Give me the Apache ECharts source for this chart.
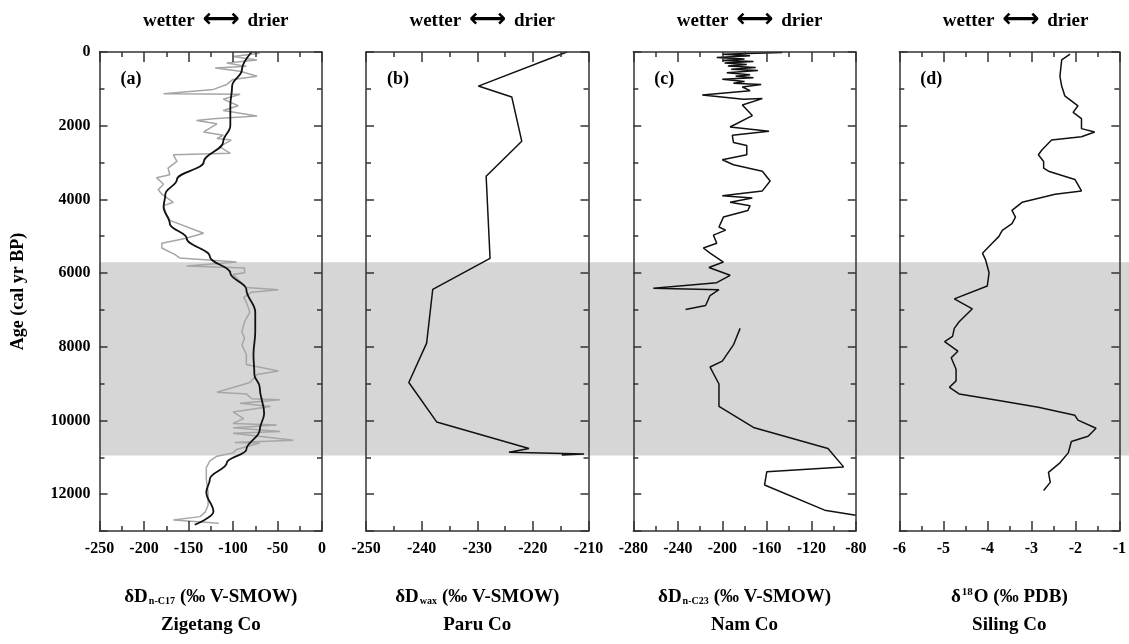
<!DOCTYPE html>
<html>
<head>
<meta charset="utf-8">
<title>Holocene moisture records</title>
<script src="https://cdn.jsdelivr.net/npm/echarts@6/dist/echarts.min.js"></script>
<style>
  html, body { margin: 0; padding: 0; background: #fff; }
  #chartBox { width: 1129px; height: 644px; }
</style>
</head>
<body>
<div id="chartBox"></div>
<script>
// ---- data: [value, age (cal yr BP)] ----
var bandAges = [5600, 10750];

// (a) Zigetang Co, raw record (grey) and smoothed curve (black)
var zigetangRaw = [
  [-78, 0], [-70, 35], [-100, 125], [-73, 215], [-107, 300], [-85, 390], [-120, 435], [-92, 525],
  [-73, 660], [-100, 745], [-107, 880], [-122, 1015], [-178, 1130], [-92, 1145], [-111, 1280],
  [-94, 1460], [-111, 1590], [-73, 1740], [-122, 1810], [-141, 1860], [-118, 1950], [-133, 2170],
  [-111, 2260], [-118, 2350], [-102, 2390], [-115, 2570], [-103, 2750], [-167, 2790], [-163, 2970],
  [-173, 3150], [-171, 3330], [-186, 3410], [-178, 3590], [-184, 3730], [-180, 3860], [-182, 3900],
  [-167, 4080], [-178, 4170], [-175, 4390], [-171, 4570], [-133, 4920], [-154, 5060], [-180, 5190],
  [-180, 5320], [-165, 5500], [-160, 5590], [-96, 5700], [-152, 5810], [-87, 5860], [-87, 5990],
  [-100, 6040], [-85, 6390], [-49, 6450], [-79, 6520], [-88, 6660], [-85, 6790], [-81, 7060],
  [-87, 7320], [-90, 7590], [-87, 7770], [-90, 7950], [-85, 8210], [-85, 8480], [-49, 8660],
  [-73, 8750], [-81, 8970], [-118, 9235], [-85, 9280], [-79, 9410], [-47, 9440], [-92, 9530],
  [-58, 9620], [-100, 9770], [-88, 9950], [-100, 10080], [-51, 10125], [-100, 10200], [-47, 10300],
  [-100, 10350], [-32, 10540], [-98, 10595], [-70, 10610], [-96, 10790], [-100, 10880], [-118, 10970],
  [-126, 11100], [-130, 11280], [-130, 11590], [-128, 11950], [-128, 12300], [-131, 12480],
  [-137, 12610], [-167, 12700], [-116, 12790]
];
var zigetangSmooth = [
  [-79, 0], [-90, 480], [-101, 925], [-103, 1460], [-103, 2000], [-111, 2435], [-133, 2990],
  [-163, 3460], [-176, 3860], [-178, 4210], [-171, 4660], [-152, 5060], [-126, 5550], [-103, 6000],
  [-85, 6440], [-75, 7060], [-75, 7590], [-77, 8210], [-76, 8750], [-70, 9100], [-65, 9810],
  [-70, 10260], [-85, 10790], [-107, 11150], [-126, 11590], [-130, 11950], [-122, 12480], [-143, 12830]
];

// (b) Paru Co
var paruCo = [
  [-213.9, 0], [-229.8, 925], [-223.8, 1220], [-222, 2420], [-228.4, 3370], [-227.7, 5600],
  [-238, 6440], [-239.1, 7900], [-242.3, 8970], [-237.3, 10040], [-220.7, 10760], [-224.3, 10860],
  [-210.8, 10910], [-214.8, 10940]
];

// (c) Nam Co, two core sections with a gap between them
var namCoUpper = [
  [-146, 15], [-200, 60], [-175, 100], [-205, 150], [-180, 190], [-200, 230], [-172, 260],
  [-198, 300], [-178, 340], [-195, 380], [-170, 420], [-192, 470], [-168, 500], [-196, 560],
  [-175, 620], [-188, 660], [-172, 700], [-200, 740], [-180, 800], [-190, 850], [-165, 880],
  [-182, 950], [-175, 1050], [-218, 1170], [-181, 1280], [-164, 1265], [-182, 1440], [-173, 1725],
  [-193, 2035], [-158, 2150], [-191, 2260], [-190, 2455], [-178, 2540], [-178, 2790], [-200, 2925],
  [-190, 3060], [-164, 3235], [-157, 3500], [-164, 3770], [-200, 3900], [-173, 3965], [-193, 4080],
  [-175, 4170], [-177, 4300], [-199, 4480], [-203, 4750], [-197, 4835], [-208, 4970], [-205, 5190],
  [-217, 5320], [-211, 5460], [-199, 5700], [-212, 5850], [-193, 6060], [-205, 6260], [-262, 6410],
  [-203, 6450], [-211, 6610], [-215, 6880], [-233, 6990]
];
var namCoLower = [
  [-184, 7500], [-190, 7950], [-200, 8390], [-211, 8550], [-203, 9010], [-203, 9620], [-172, 10190],
  [-105, 10760], [-91, 11260], [-160, 11390], [-162, 11750], [-108, 12435], [-80, 12570]
];

// (d) Siling Co
var silingCo = [
  [-2.12, 60], [-2.31, 215], [-2.35, 660], [-2.31, 925], [-2.24, 1190], [-1.94, 1460], [-2.05, 1640],
  [-1.86, 1810], [-1.86, 2080], [-1.56, 2170], [-1.86, 2300], [-2.54, 2390], [-2.76, 2660],
  [-2.84, 2790], [-2.72, 2970], [-2.72, 3150], [-2.61, 3235], [-2.01, 3460], [-1.86, 3770],
  [-2.46, 3860], [-3.21, 4080], [-3.44, 4300], [-3.36, 4480], [-3.44, 4660], [-3.66, 4840],
  [-3.74, 5010], [-3.89, 5190], [-4.11, 5460], [-4.04, 5640], [-3.96, 5990], [-4.0, 6350],
  [-4.75, 6700], [-4.34, 6970], [-4.64, 7320], [-4.75, 7500], [-4.79, 7720], [-4.97, 7860],
  [-4.67, 8120], [-4.82, 8300], [-4.71, 8610], [-4.71, 8925], [-4.86, 9100], [-4.64, 9280],
  [-3.74, 9460], [-2.84, 9640], [-2.01, 9860], [-1.94, 9990], [-1.53, 10210], [-1.71, 10430],
  [-2.09, 10570], [-2.16, 10880], [-2.35, 11150], [-2.61, 11410], [-2.57, 11680], [-2.72, 11900]
];

// x axis ranges per panel: [min, max, interval]
var xRanges = [[-250, 0, 50], [-250, -210, 10], [-280, -80, 40], [-6, -1, 1]];
var panelTags = ['(a)', '(b)', '(c)', '(d)'];
var xNames = [
  '{m|δD}{sub|n-C17}{m|(‰ V-SMOW)}\n{m|Zigetang Co}',
  '{m|δD}{sub|wax}{m|(‰ V-SMOW)}\n{m|Paru Co}',
  '{m|δD}{sub|n-C23}{m|(‰ V-SMOW)}\n{m|Nam Co}',
  '{m|δ}{sup|18}{m|O (‰ PDB)}\n{m|Siling Co}'
];
var ageMax = 13000;

// ---- layout ----
var font = '"Liberation Serif", "Times New Roman", "DejaVu Serif", serif';
var axisColor = '#333';
var gridLefts = [99.5, 366, 633.3, 899.3];
var gridW = 222.5, gridTop = 52, gridH = 488;

var chart = echarts.init(document.getElementById('chartBox'));

var grids = [], xAxes = [], yAxes = [], titles = [], graphics = [];

function tickCfg(len) {
  return { show: true, inside: true, length: len, lineStyle: { color: axisColor, width: 1.5 } };
}
function minorCfg() {
  return { show: true, splitNumber: 2, length: 5, lineStyle: { color: axisColor, width: 1.5 } };
}
function plain(v) { return String(v); }

for (var i = 0; i < 4; i++) {
  grids.push({ left: gridLefts[i], top: gridTop, width: gridW, height: gridH });
  var r = xRanges[i];
  // bottom axis with labels
  xAxes.push({
    type: 'value', gridIndex: i, position: 'bottom', min: r[0], max: r[1], interval: r[2], z: 5,
    axisLine: { onZero: false, lineStyle: { color: axisColor, width: 1.5 } },
    axisTick: tickCfg(10), minorTick: minorCfg(), splitLine: { show: false },
    axisLabel: { margin: 10, color: '#000', fontFamily: font, fontWeight: 'bold', fontSize: 16, formatter: plain },
    name: xNames[i], nameLocation: 'middle', nameGap: 52,
    nameTextStyle: {
      color: '#000', lineHeight: 28,
      rich: {
        m: { fontFamily: font, fontWeight: 'bold', fontSize: 19, color: '#000' },
        sub: { fontFamily: font, fontWeight: 'bold', fontSize: 10, color: '#000', padding: [9, 5, 0, 1] },
        sup: { fontFamily: font, fontWeight: 'bold', fontSize: 11, color: '#000', padding: [0, 1, 9, 1] }
      }
    }
  });
  // top mirror axis, ticks only
  xAxes.push({
    type: 'value', gridIndex: i, position: 'top', min: r[0], max: r[1], interval: r[2], z: 5,
    axisLine: { onZero: false, lineStyle: { color: axisColor, width: 1.5 } },
    axisTick: tickCfg(10), minorTick: minorCfg(), splitLine: { show: false },
    axisLabel: { show: false }
  });
  // left age axis
  yAxes.push({
    type: 'value', gridIndex: i, position: 'left', inverse: true, min: 0, max: ageMax, interval: 2000, z: 5,
    axisLine: { onZero: false, lineStyle: { color: axisColor, width: 1.5 } },
    axisTick: tickCfg(8), minorTick: minorCfg(), splitLine: { show: false },
    axisLabel: {
      show: i === 0, margin: 9, color: '#000', fontFamily: font, fontWeight: 'bold', fontSize: 16,
      showMaxLabel: false, formatter: plain
    },
    name: i === 0 ? 'Age (cal yr BP)' : '', nameLocation: 'middle', nameGap: 72,
    nameTextStyle: { color: '#000', fontFamily: font, fontWeight: 'bold', fontSize: 18 }
  });
  // right mirror axis
  yAxes.push({
    type: 'value', gridIndex: i, position: 'right', inverse: true, min: 0, max: ageMax, interval: 2000, z: 5,
    axisLine: { onZero: false, lineStyle: { color: axisColor, width: 1.5 } },
    axisTick: tickCfg(8), minorTick: minorCfg(), splitLine: { show: false },
    axisLabel: { show: false }
  });
  titles.push({
    text: '{w|wetter }{arr|⟷}{w| drier}', left: gridLefts[i] + gridW / 2, top: 2, textAlign: 'center',
    textStyle: {
      rich: {
        w: { fontFamily: font, fontWeight: 'bold', fontSize: 19, color: '#000' },
        arr: { fontFamily: '"DejaVu Sans", sans-serif', fontSize: 26, color: '#000', padding: [0, 3, 2, 3] }
      }
    }
  });
  graphics.push({
    type: 'text', left: gridLefts[i] + 21, top: 70, z: 10,
    style: { text: panelTags[i], font: 'bold 18px ' + font, fill: '#000' }
  });
}

// hidden grid behind the panels for the shaded interval
grids.push({ left: 99.5, right: 0, top: gridTop, height: gridH });
xAxes.push({ type: 'value', gridIndex: 4, min: 0, max: 1, show: false });
yAxes.push({ type: 'value', gridIndex: 4, inverse: true, min: 0, max: ageMax, show: false });

function lineSeries(data, xi, yi, color, width, smooth) {
  return {
    type: 'line', xAxisIndex: xi, yAxisIndex: yi, data: data, symbol: 'none', z: 4,
    smooth: smooth ? 0.4 : false, smoothMonotone: smooth ? 'y' : undefined,
    lineStyle: { color: color, width: width }, silent: true, animation: false
  };
}

var option = {
  backgroundColor: '#fff',
  animation: false,
  title: titles,
  grid: grids,
  xAxis: xAxes,
  yAxis: yAxes,
  graphic: graphics,
  series: [
    {
      type: 'line', xAxisIndex: 8, yAxisIndex: 8, data: [], z: 1, silent: true,
      markArea: {
        silent: true,
        itemStyle: { color: '#d6d6d6', opacity: 1 },
        data: [[{ yAxis: bandAges[0] }, { yAxis: bandAges[1] }]]
      }
    },
    lineSeries(zigetangRaw, 0, 0, '#a6a6a6', 1.5, false),
    lineSeries(zigetangSmooth, 0, 0, '#111', 1.8, true),
    lineSeries(paruCo, 2, 2, '#111', 1.5, false),
    lineSeries(namCoUpper, 4, 4, '#111', 1.5, false),
    lineSeries(namCoLower, 4, 4, '#111', 1.5, false),
    lineSeries(silingCo, 6, 6, '#111', 1.5, false)
  ]
};
chart.setOption(option);
</script>
</body>
</html>
